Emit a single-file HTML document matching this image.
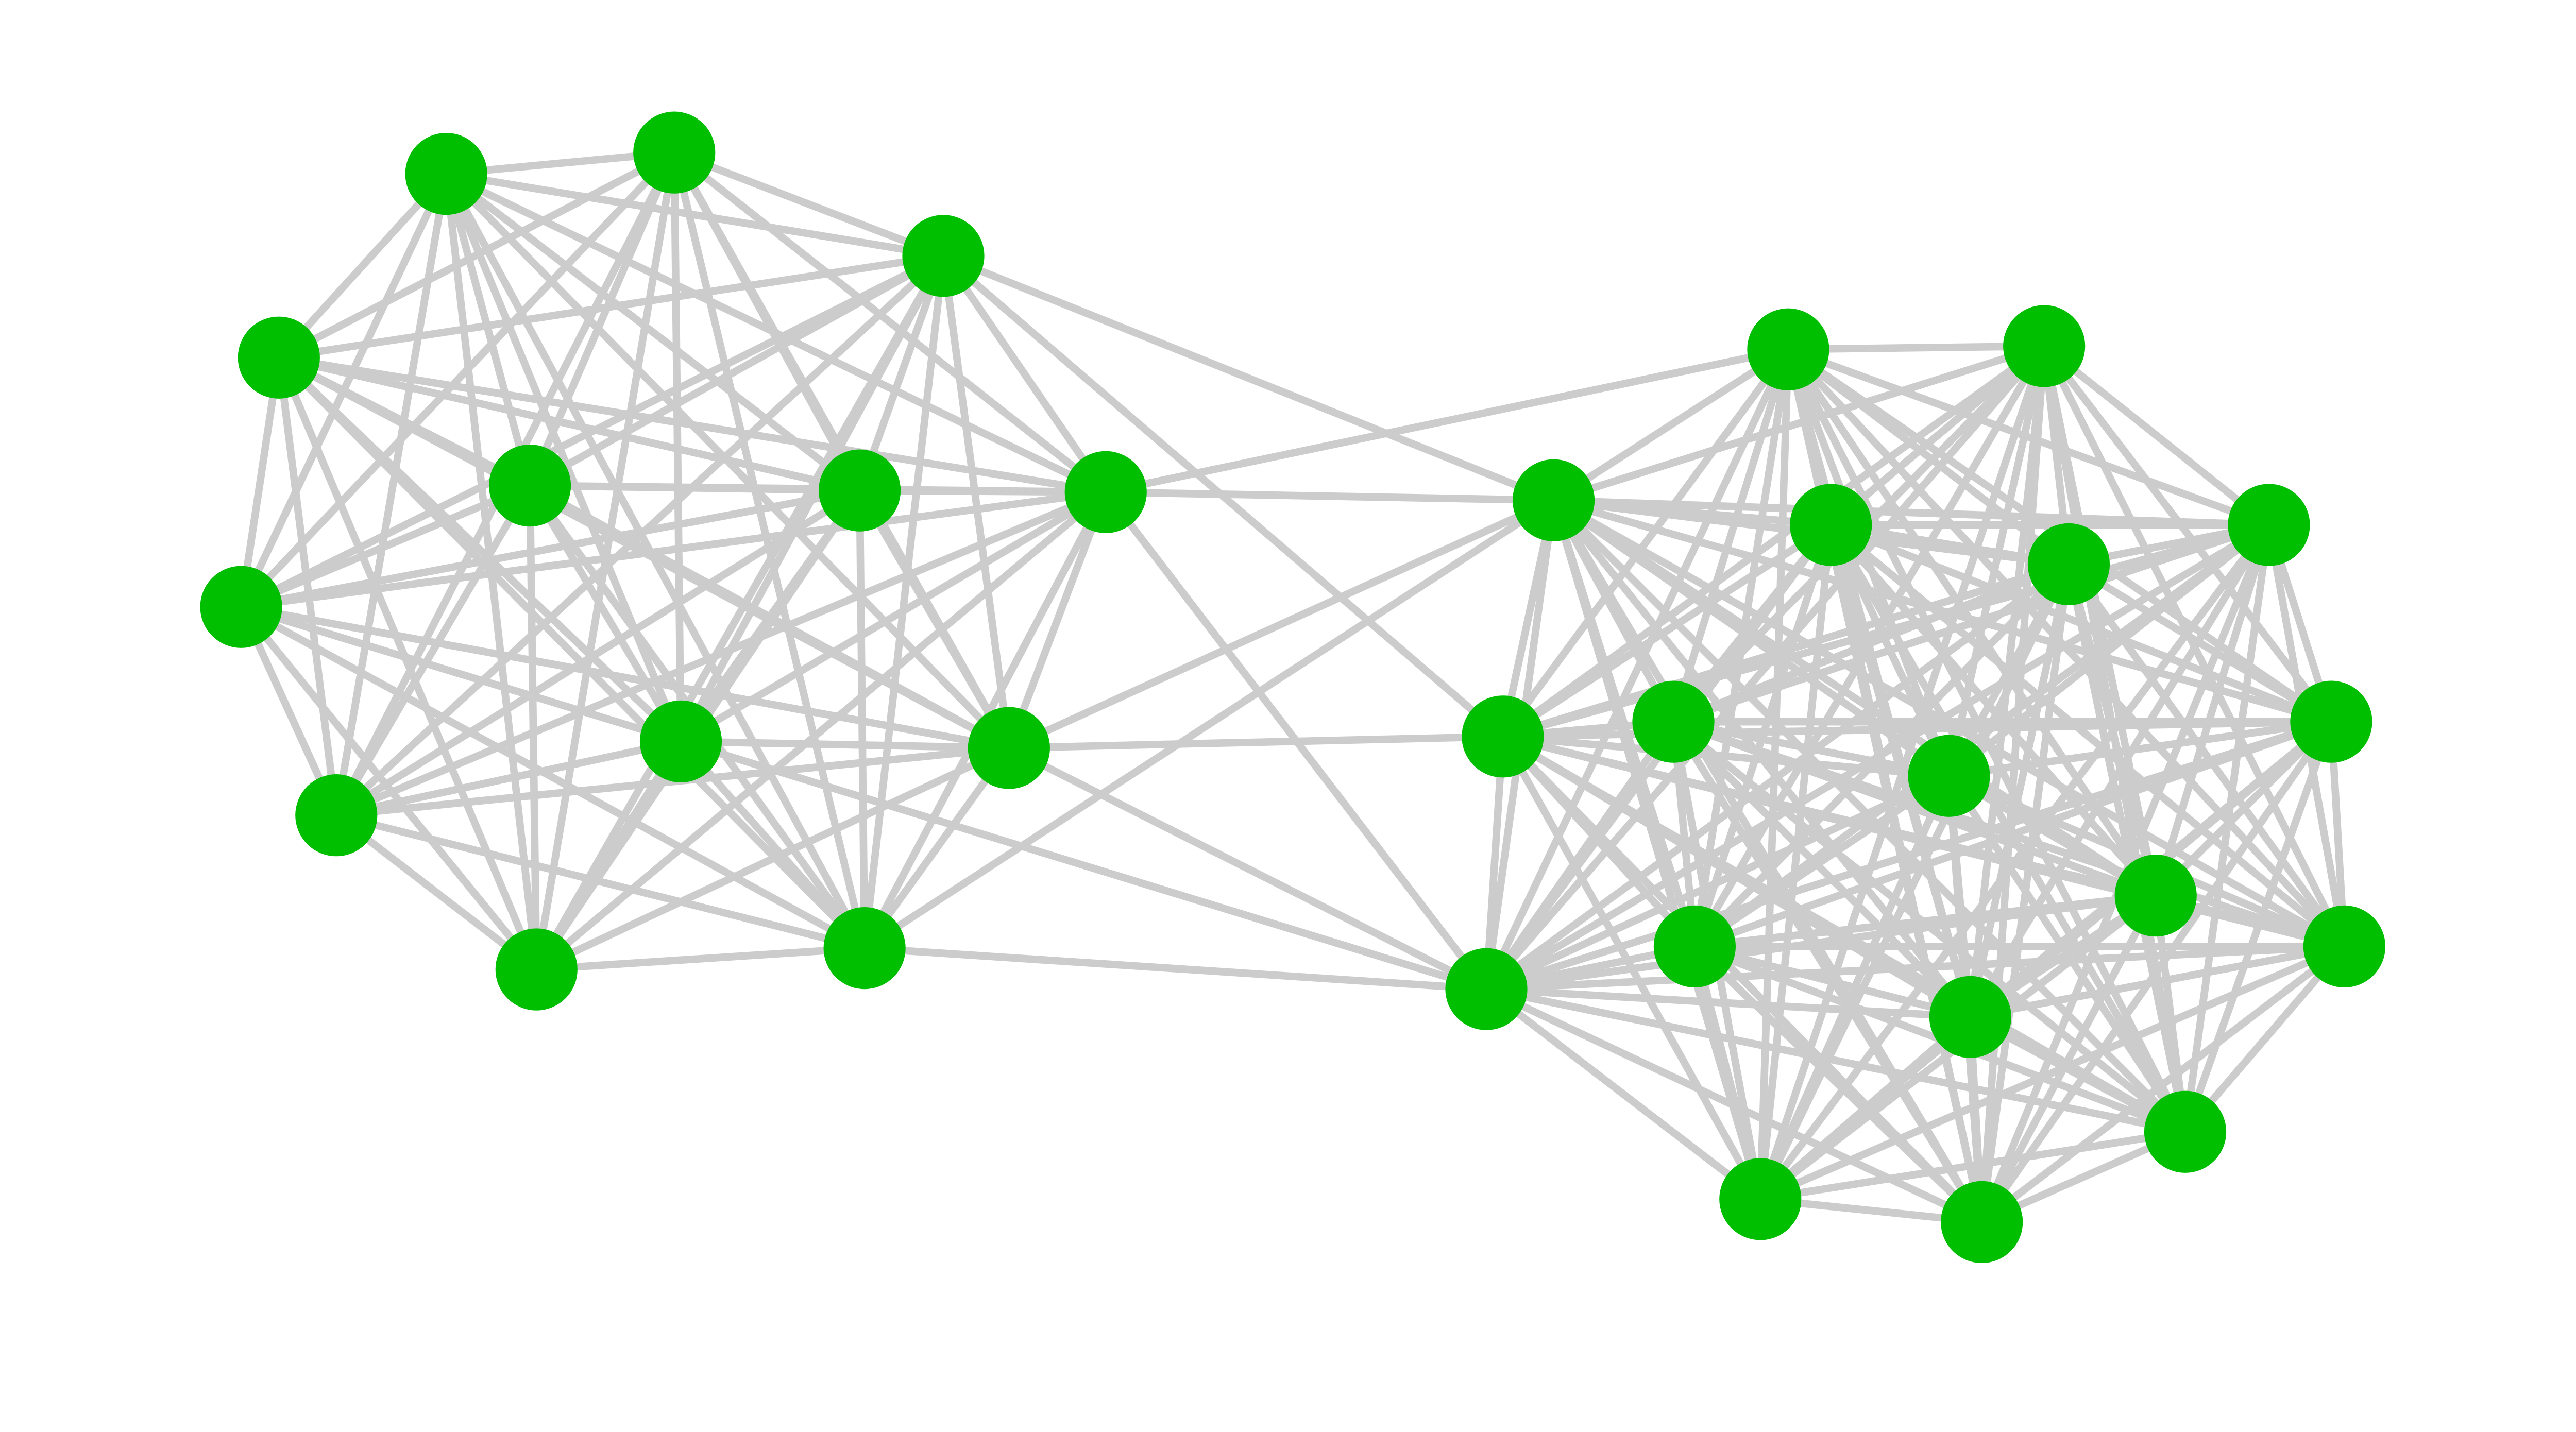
<!DOCTYPE html>
<html><head><meta charset="utf-8"><style>
html,body{margin:0;padding:0;background:#fff;width:5200px;height:2780px;overflow:hidden}
svg{display:block}
</style></head><body>
<svg id="g" width="5200" height="2780" viewBox="0 0 1633 873" preserveAspectRatio="none" xmlns="http://www.w3.org/2000/svg">
<rect width="1633" height="873" fill="#fff"/>
<g id="e" stroke="#cccccc" stroke-width="4.6" stroke-linecap="round"></g>
<g id="n" fill="#00bf00"></g>
</svg>
<script>
var A=[[272,106],[411,93],[575,156],[170,218],[323,296],[524,299],[674,300],[147,370],[415,452],[615,456],[205,497],[327,591],[527,578]];
var B=[[1090,213],[1246,211],[1383,320],[947,305],[1116,320],[1261,344],[916,449],[1020,440],[1421,440],[1188,473],[1314,546],[1033,577],[1429,577],[906,603],[1201,620],[1332,690],[1073,731],[1208,745]];
var ns="http://www.w3.org/2000/svg",E=document.getElementById('e'),N=document.getElementById('n');
function L(p,q){var l=document.createElementNS(ns,'line');l.setAttribute('x1',p[0]);l.setAttribute('y1',p[1]);l.setAttribute('x2',q[0]);l.setAttribute('y2',q[1]);E.appendChild(l);}
function clique(S){for(var i=0;i<S.length;i++)for(var j=i+1;j<S.length;j++)L(S[i],S[j]);}
clique(A);clique(B);
var X=[[2,3],[6,3],[6,13],[9,6],[9,13],[12,13],[12,3],[2,6],[8,13],[9,3]];
X.forEach(function(x){L(A[x[0]],B[x[1]]);});
L(B[0],A[6]);
A.concat(B).forEach(function(p){var c=document.createElementNS(ns,'circle');c.setAttribute('cx',p[0]);c.setAttribute('cy',p[1]);c.setAttribute('r',25);N.appendChild(c);});
</script>
</body></html>
